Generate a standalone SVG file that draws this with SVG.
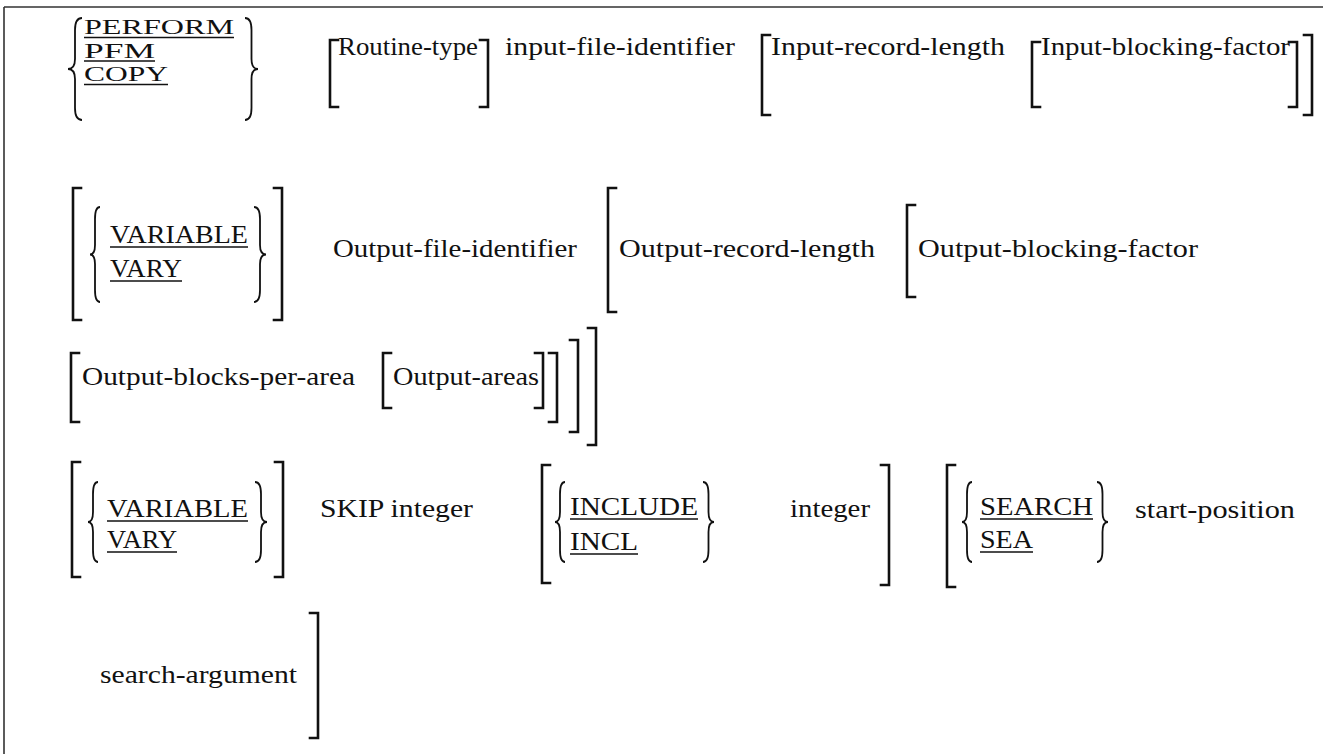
<svg xmlns="http://www.w3.org/2000/svg" width="1323" height="754" viewBox="0 0 1323 754">
<style>
text{font-family:'Liberation Serif','Times New Roman',serif;fill:#111}
.t{font-size:26px}
.k{font-size:25px}
.k1{font-size:21px}
.br{fill:none;stroke:#111;stroke-width:2.6;stroke-linecap:square}
.bc{fill:none;stroke:#111;stroke-width:1.8}
.ul{stroke:#111;stroke-width:1.6}
.fr{stroke:#333;stroke-width:1.6;fill:none}
</style>
<rect width="1323" height="754" fill="#fff"/>
<g id="frame">
<path class="fr" d="M4,7 H1323 M4,7 V754"/>
</g>
<g id="row1">
<path class="bc" d="M82,18 Q75,18 75,30 L75,59 Q75,69 68,69 Q75,69 75,79 L75,108 Q75,120 82,120"/>
<text class="k1" x="84" y="34" textLength="150" lengthAdjust="spacingAndGlyphs">PERFORM</text><line class="ul" x1="84" y1="37.5" x2="234" y2="37.5"/>
<text class="k1" x="84" y="57.5" textLength="71" lengthAdjust="spacingAndGlyphs">PFM</text><line class="ul" x1="84" y1="61" x2="155" y2="61"/>
<text class="k1" x="84" y="81" textLength="84" lengthAdjust="spacingAndGlyphs">COPY</text><line class="ul" x1="84" y1="84.5" x2="168" y2="84.5"/>
<path class="bc" d="M245,18 Q251.5,18 251.5,30 L251.5,59 Q251.5,69 258,69 Q251.5,69 251.5,79 L251.5,108 Q251.5,120 245,120"/>
<path class="br" d="M338,40 H330 V107 H338"/>
<text class="t" x="338" y="55" textLength="140" lengthAdjust="spacingAndGlyphs">Routine-type</text>
<path class="br" d="M480,40 H488 V107 H480"/>
<text class="t" x="505" y="55" textLength="230" lengthAdjust="spacingAndGlyphs">input-file-identifier</text>
<path class="br" d="M770,35 H762 V115 H770"/>
<text class="t" x="771" y="55" textLength="234" lengthAdjust="spacingAndGlyphs">Input-record-length</text>
<path class="br" d="M1040,42 H1032 V107 H1040"/>
<text class="t" x="1041" y="55" textLength="249" lengthAdjust="spacingAndGlyphs">Input-blocking-factor</text>
<path class="br" d="M1289,42 H1297 V107 H1289"/>
<path class="br" d="M1304,35 H1312 V115 H1304"/>
</g>
<g id="row2">
<path class="br" d="M81,188 H73 V320 H81"/>
<path class="bc" d="M100,207 Q95,207 95,219 L95,245 Q95,254.5 90,254.5 Q95,254.5 95,264 L95,290 Q95,302 100,302"/>
<text class="k" x="110" y="243" textLength="138" lengthAdjust="spacingAndGlyphs">VARIABLE</text><line class="ul" x1="110" y1="247" x2="248" y2="247"/>
<text class="k" x="110" y="277" textLength="72" lengthAdjust="spacingAndGlyphs">VARY</text><line class="ul" x1="110" y1="281" x2="182" y2="281"/>
<path class="bc" d="M254,207 Q260,207 260,219 L260,245 Q260,254.5 266,254.5 Q260,254.5 260,264 L260,290 Q260,302 254,302"/>
<path class="br" d="M274,188 H282 V320 H274"/>
<text class="t" x="333" y="257" textLength="244" lengthAdjust="spacingAndGlyphs">Output-file-identifier</text>
<path class="br" d="M616,188 H608 V312 H616"/>
<text class="t" x="619" y="257" textLength="256" lengthAdjust="spacingAndGlyphs">Output-record-length</text>
<path class="br" d="M915,205 H907 V297 H915"/>
<text class="t" x="918" y="257" textLength="280" lengthAdjust="spacingAndGlyphs">Output-blocking-factor</text>
</g>
<g id="row3">
<path class="br" d="M79,353 H71 V422 H79"/>
<text class="t" x="82" y="385" textLength="273" lengthAdjust="spacingAndGlyphs">Output-blocks-per-area</text>
<path class="br" d="M391,353 H383 V408 H391"/>
<text class="t" x="393" y="385" textLength="146" lengthAdjust="spacingAndGlyphs">Output-areas</text>
<path class="br" d="M535,353 H543 V408 H535"/>
<path class="br" d="M549,353 H557 V422 H549"/>
<path class="br" d="M570,340 H578 V432 H570"/>
<path class="br" d="M588,328 H596 V445 H588"/>
</g>
<g id="row4">
<path class="br" d="M80,462 H72 V577 H80"/>
<path class="bc" d="M98,482 Q93,482 93,494 L93,512 Q93,522 88,522 Q93,522 93,532 L93,550 Q93,562 98,562"/>
<text class="k" x="107" y="517" textLength="141" lengthAdjust="spacingAndGlyphs">VARIABLE</text><line class="ul" x1="107" y1="521" x2="248" y2="521"/>
<text class="k" x="107" y="548" textLength="70" lengthAdjust="spacingAndGlyphs">VARY</text><line class="ul" x1="107" y1="552" x2="177" y2="552"/>
<path class="bc" d="M255,482 Q261,482 261,494 L261,512 Q261,522 267,522 Q261,522 261,532 L261,550 Q261,562 255,562"/>
<path class="br" d="M275,462 H283 V577 H275"/>
<text class="t" x="320" y="517" textLength="153" lengthAdjust="spacingAndGlyphs">SKIP integer</text>
<path class="br" d="M550,465 H542 V583 H550"/>
<path class="bc" d="M565,482 Q560,482 560,494 L560,512 Q560,522 555,522 Q560,522 560,532 L560,550 Q560,562 565,562"/>
<text class="k" x="570" y="515" textLength="128" lengthAdjust="spacingAndGlyphs">INCLUDE</text><line class="ul" x1="570" y1="519" x2="698" y2="519"/>
<text class="k" x="570" y="550" textLength="68" lengthAdjust="spacingAndGlyphs">INCL</text><line class="ul" x1="570" y1="554" x2="638" y2="554"/>
<path class="bc" d="M703,482 Q708.5,482 708.5,494 L708.5,512 Q708.5,522 714,522 Q708.5,522 708.5,532 L708.5,550 Q708.5,562 703,562"/>
<text class="t" x="790" y="517" textLength="80" lengthAdjust="spacingAndGlyphs">integer</text>
<path class="br" d="M881,465 H889 V585 H881"/>
<path class="br" d="M955,465 H947 V587 H955"/>
<path class="bc" d="M972,482 Q967,482 967,494 L967,512 Q967,522 962,522 Q967,522 967,532 L967,550 Q967,562 972,562"/>
<text class="k" x="980" y="515" textLength="113" lengthAdjust="spacingAndGlyphs">SEARCH</text><line class="ul" x1="980" y1="519" x2="1093" y2="519"/>
<text class="k" x="980" y="548" textLength="53" lengthAdjust="spacingAndGlyphs">SEA</text><line class="ul" x1="980" y1="552" x2="1033" y2="552"/>
<path class="bc" d="M1097,482 Q1102.5,482 1102.5,494 L1102.5,512 Q1102.5,522 1108,522 Q1102.5,522 1102.5,532 L1102.5,550 Q1102.5,562 1097,562"/>
<text class="t" x="1135" y="518" textLength="160" lengthAdjust="spacingAndGlyphs">start-position</text>
</g>
<g id="row5">
<text class="t" x="100" y="683" textLength="197" lengthAdjust="spacingAndGlyphs">search-argument</text>
<path class="br" d="M310,613 H318 V738 H310"/>
</g>
</svg>
